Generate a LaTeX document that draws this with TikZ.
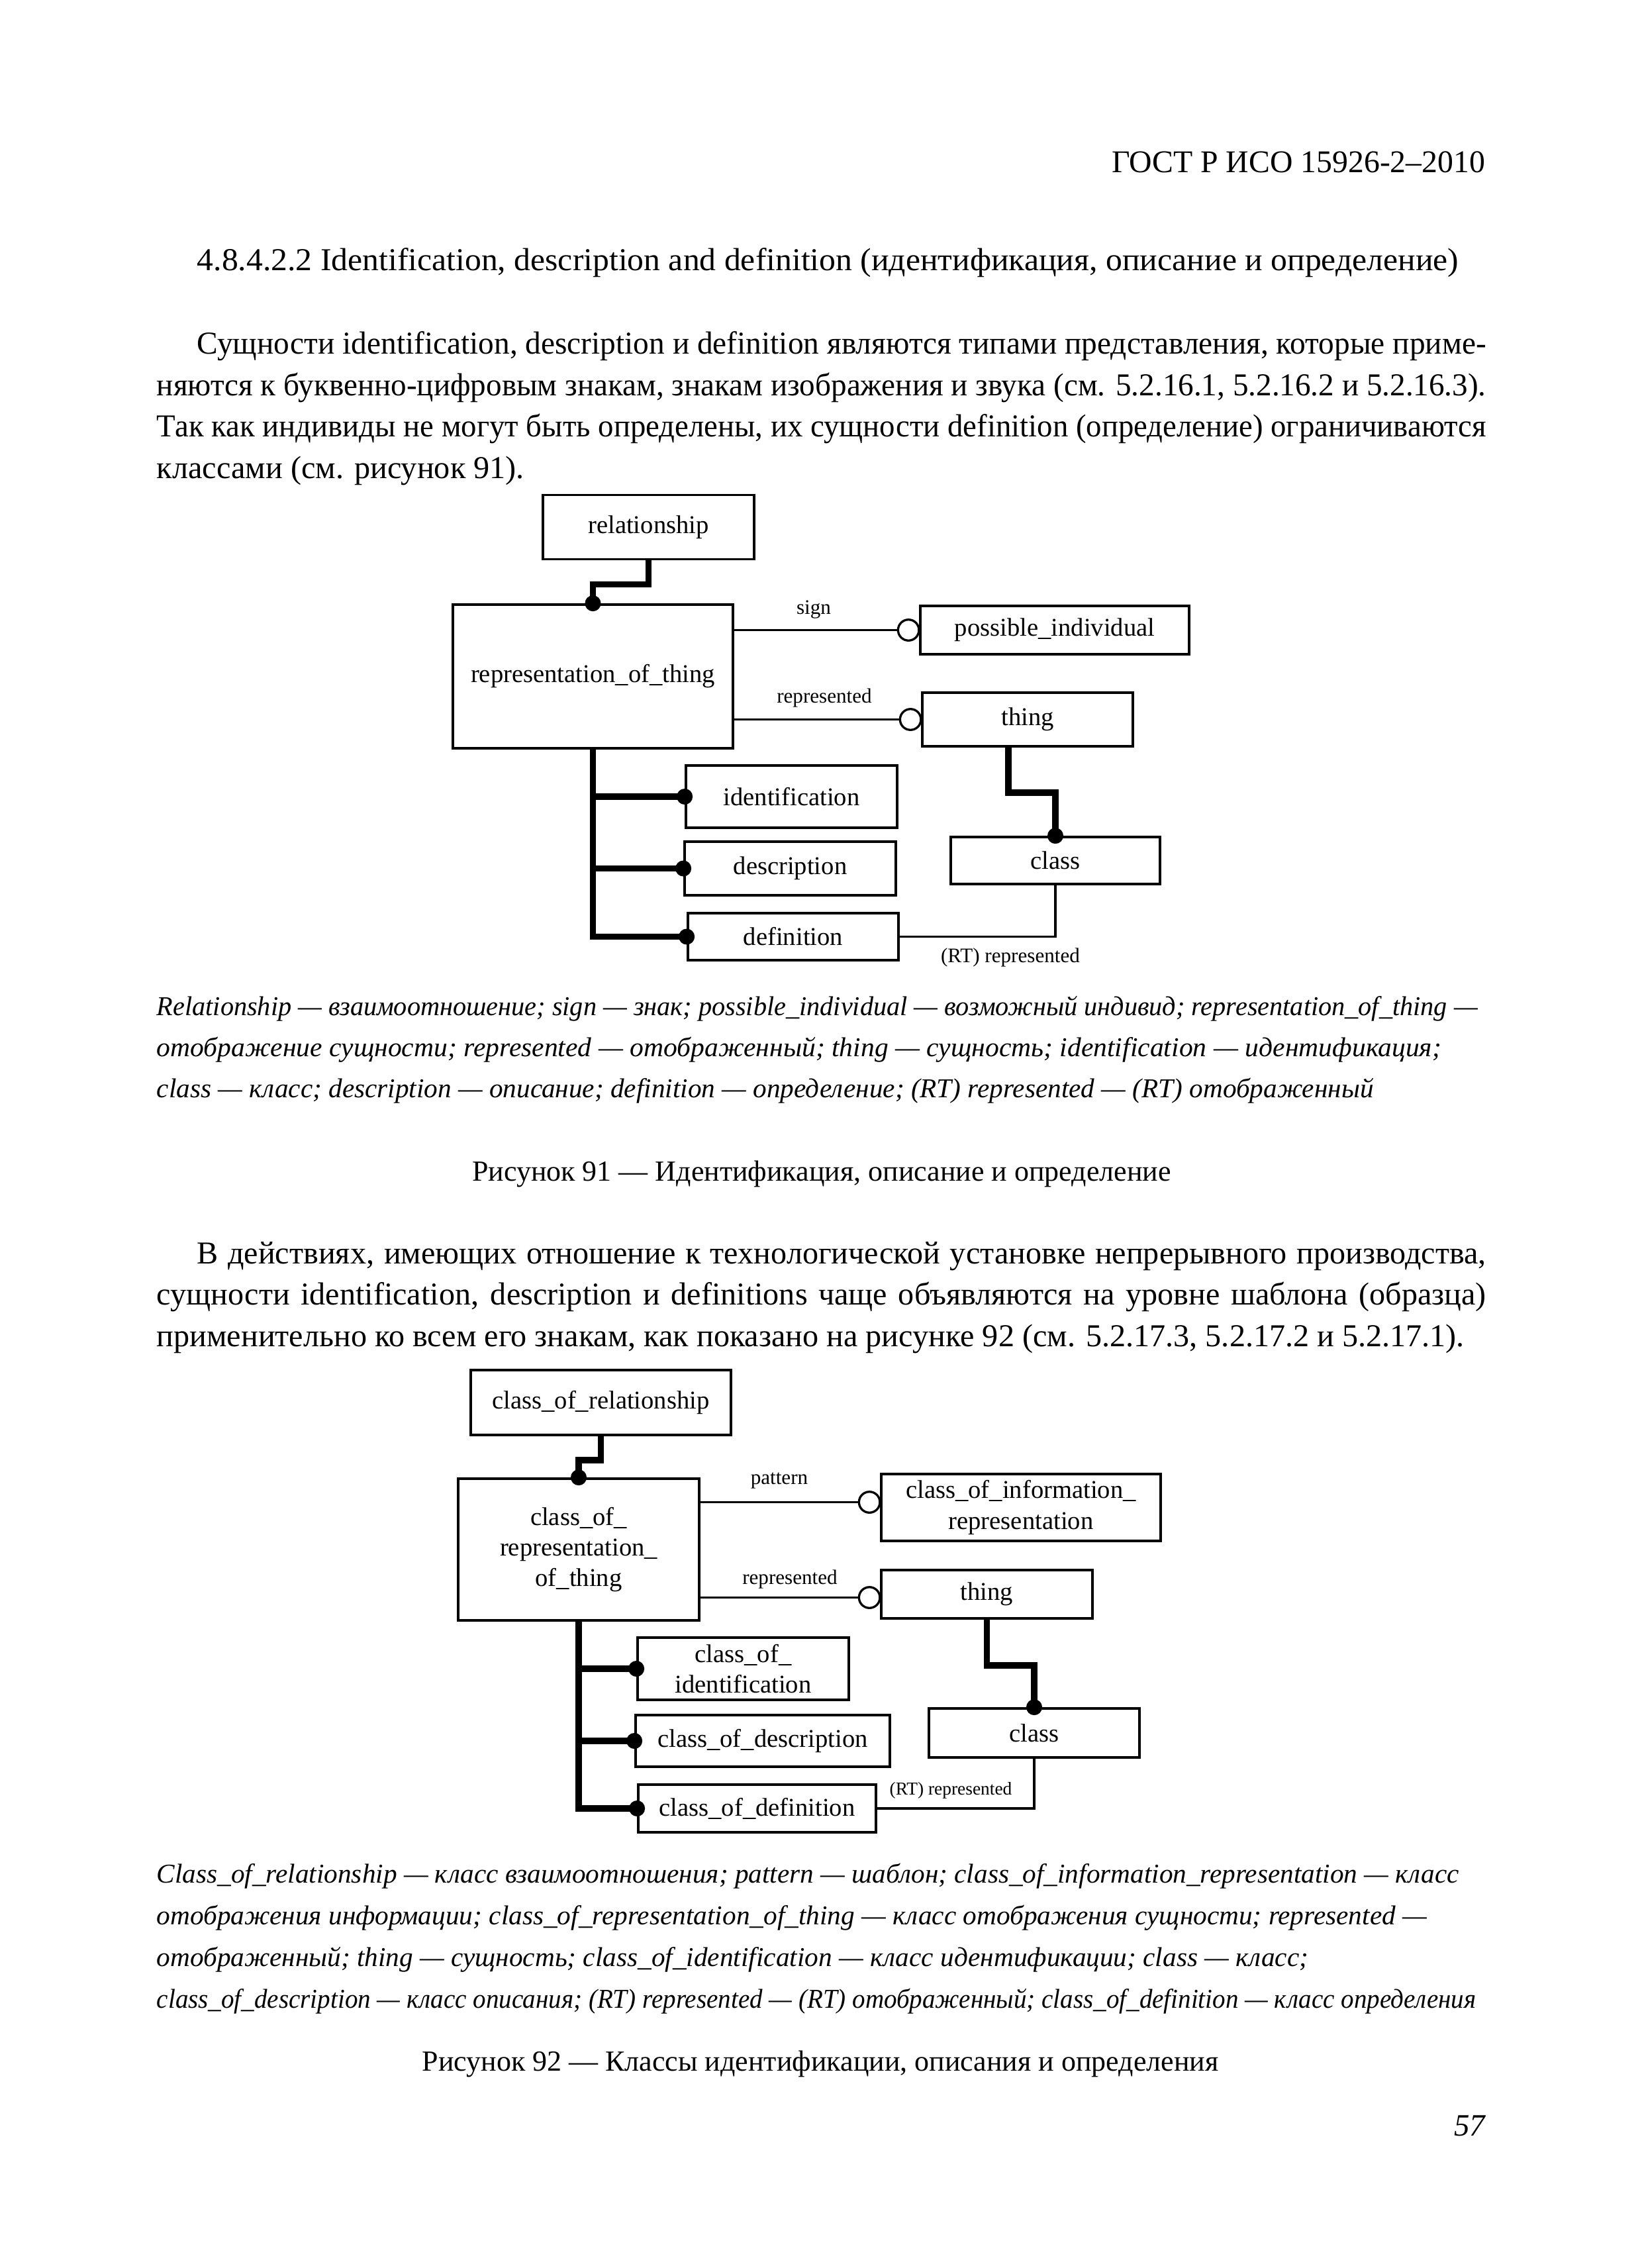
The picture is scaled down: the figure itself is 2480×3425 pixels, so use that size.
\documentclass[tikz,border=0pt]{standalone}
\usepackage{fontspec}
\usepackage{graphicx}
\setmainfont{Liberation Serif}
\usetikzlibrary{calc}
\newcommand\pxu{0.2409pt}
\newcommand\jline[2]{\sbox0{#2}\ifdim\wd0>#1\relax\resizebox{#1}{\height}{\usebox0}\else\makebox[#1][s]{#2}\fi}
\newcommand\fline[2]{\resizebox{#1}{\height}{#2}}
\begin{document}
\begin{tikzpicture}[x=0.2409pt, y=-0.2409pt,
  box/.style={draw, line width=0.9pt, inner sep=0pt, align=center, font=\fontsize{9.3pt}{11.1pt}\selectfont},
  conn/.style={line width=0.8pt},
  heavy/.style={line width=2.3pt, line join=miter},
  dot/.style={circle, fill=black, inner sep=0pt, minimum size=5.8pt},
  ocirc/.style={circle, draw, fill=white, line width=0.8pt, inner sep=0pt, minimum size=7.6pt},
  lbl/.style={inner sep=0pt, font=\fontsize{7.5pt}{9pt}\selectfont},
  lbls/.style={inner sep=0pt, font=\fontsize{6.6pt}{8pt}\selectfont},
  body/.style={anchor=base west, inner sep=0pt, font=\fontsize{11.6pt}{14pt}\selectfont},
  capt/.style={anchor=base west, inner sep=0pt, font=\fontsize{9.9pt}{12pt}\selectfont\itshape},
  ftitle/.style={anchor=base, inner sep=0pt, font=\fontsize{10.6pt}{13pt}\selectfont},
]
\path[use as bounding box, fill=white] (0,0) rectangle (2480,3425);

% ---------- header and text ----------
\node[anchor=base east, inner sep=0pt, font=\fontsize{11.5pt}{14pt}\selectfont] (hdr) at (2244,260) {ГОСТ Р ИСО 15926-2–2010};
\node[body] (sec) at (297,408) {\fline{459pt}{4.8.4.2.2 Identification, description and definition (идентификация, описание и определение)}};

\node[body] (p1a) at (297,534) {\jline{469.0pt}{Сущности identification, description и definition являются типами представления, которые приме-}};
\node[body] (p1b) at (236,597) {\jline{483.7pt}{няются к буквенно-цифровым знакам, знакам изображения и звука (см. 5.2.16.1, 5.2.16.2 и 5.2.16.3).}};
\node[body] (p1c) at (236,659) {\jline{483.7pt}{Так как индивиды не могут быть определены, их сущности definition (определение) ограничиваются}};
\node[body] (p1d) at (236,722) {\fline{133.7pt}{классами (см. рисунок 91).}};

% ---------- figure 91 ----------
\node[box, minimum width=319*\pxu, minimum height=97*\pxu] (rel) at (979.5,796) {relationship};
\node[box, minimum width=423*\pxu, minimum height=217*\pxu] (rot) at (895.5,1021.5) {representation\_of\_thing};
\node[box, minimum width=406*\pxu, minimum height=73*\pxu] (pi) at (1593,951.5) {possible\_individual};
\node[box, minimum width=318*\pxu, minimum height=81*\pxu] (thing1) at (1552,1086.5) {thing};
\node[box, minimum width=319*\pxu, minimum height=94*\pxu] (ident) at (1195.5,1203) {identification};
\node[box, minimum width=319*\pxu, minimum height=81*\pxu] (desc) at (1193.5,1311.5) {description};
\node[box, minimum width=318*\pxu, minimum height=71*\pxu] (defn) at (1198,1414.5) {definition};
\node[box, minimum width=316*\pxu, minimum height=71*\pxu] (class1) at (1594,1299.5) {class};

\node[ocirc] (oc1) at ($(pi.west)+(-16,0)$) {};
\node[ocirc] (oc2) at ($(thing1.west)+(-16,0)$) {};
\draw[conn] (rot.east |- oc1) -- (oc1.west);
\draw[conn] (rot.east |- oc2) -- (oc2.west);
\node[lbl] (lsign) at (1229,921) {sign};
\node[lbl] (lrep1) at (1245,1054) {represented};

\draw[heavy] (rel.south) -- ++(0,36) -| (rot.north);
\draw[heavy] (rot.south) |- (defn.west);
\draw[heavy] (rot.south |- ident.west) -- (ident.west);
\draw[heavy] (rot.south |- desc.west) -- (desc.west);
\draw[heavy] ($(thing1.south)+(-29,0)$) -- ++(0,68) -| (class1.north);
\draw[conn] (class1.south) |- (defn.east);
\node[lbl] (lrt1) at (1526,1446) {(RT) represented};

\node[dot] (d1a) at (rot.north) {};
\node[dot] (d1b) at (ident.west) {};
\node[dot] (d1c) at (desc.west) {};
\node[dot] (d1d) at (defn.west) {};
\node[dot] (d1e) at (class1.north) {};

\node[capt] (c1a) at (236,1533) {\fline{480.6pt}{Relationship — взаимоотношение; sign — знак; possible\_individual — возможный индивид; representation\_of\_thing —}};
\node[capt] (c1b) at (236,1595) {\fline{467.4pt}{отображение сущности; represented — отображенный; thing — сущность; identification — идентификация;}};
\node[capt] (c1c) at (236,1657) {\fline{442.7pt}{class — класс; description — описание; definition — определение; (RT) represented — (RT) отображенный}};
\node[ftitle] (t1) at (1241,1783) {Рисунок 91 — Идентификация, описание и определение};

\node[body] (p2a) at (297,1908) {\jline{469.0pt}{В действиях, имеющих отношение к технологической установке непрерывного производства,}};
\node[body] (p2b) at (236,1970) {\jline{483.7pt}{сущности identification, description и definitions чаще объявляются на уровне шаблона (образца)}};
\node[body] (p2c) at (236,2033) {\fline{475.8pt}{применительно ко всем его знакам, как показано на рисунке 92 (см. 5.2.17.3, 5.2.17.2 и 5.2.17.1).}};

% ---------- figure 92 ----------
\node[box, minimum width=393*\pxu, minimum height=98*\pxu] (cor) at (907.5,2118) {class\_of\_relationship};
\node[box, minimum width=364*\pxu, minimum height=214*\pxu] (corot) at (874,2340) {class\_of\_\\representation\_\\of\_thing};
\node[box, minimum width=422*\pxu, minimum height=101*\pxu] (coir) at (1542,2276.5) {class\_of\_information\_\\representation};
\node[box, minimum width=319*\pxu, minimum height=73*\pxu] (thing2) at (1490.5,2407.5) {thing};
\node[box, minimum width=319*\pxu, minimum height=94*\pxu] (coid) at (1122.5,2520) {class\_of\_\\identification};
\node[box, minimum width=384*\pxu, minimum height=78*\pxu] (codesc) at (1152,2629) {class\_of\_description};
\node[box, minimum width=359*\pxu, minimum height=72*\pxu] (codef) at (1143.5,2731) {class\_of\_definition};
\node[box, minimum width=318*\pxu, minimum height=74*\pxu] (class2) at (1562,2617) {class};

\node[ocirc] (oc3) at ($(coir.west)+(-16,-8)$) {};
\node[ocirc] (oc4) at ($(thing2.west)+(-16,5)$) {};
\draw[conn] (corot.east |- oc3) -- (oc3.west);
\draw[conn] (corot.east |- oc4) -- (oc4.west);
\node[lbl] (lpat) at (1177,2236) {pattern};
\node[lbl] (lrep2) at (1193,2385) {represented};

\draw[heavy] (cor.south) -- ++(0,36) -| (corot.north);
\draw[heavy] (corot.south) |- (codef.west);
\draw[heavy] (corot.south |- coid.west) -- (coid.west);
\draw[heavy] (corot.south |- codesc.west) -- (codesc.west);
\draw[heavy] (thing2.south) -- ++(0,69) -| (class2.north);
\draw[conn] (class2.south) |- (codef.east);
\node[lbls] (lrt2) at (1436,2704) {(RT) represented};

\node[dot] (d2a) at (corot.north) {};
\node[dot] (d2b) at (coid.west) {};
\node[dot] (d2c) at (codesc.west) {};
\node[dot] (d2d) at (codef.west) {};
\node[dot] (d2e) at (class2.north) {};

\node[capt] (c2a) at (236,2843) {\fline{473.8pt}{Class\_of\_relationship — класс взаимоотношения; pattern — шаблон; class\_of\_information\_representation — класс}};
\node[capt] (c2b) at (236,2906) {\fline{462.1pt}{отображения информации; class\_of\_representation\_of\_thing — класс отображения сущности; represented —}};
\node[capt] (c2c) at (236,2969) {\fline{419.0pt}{отображенный; thing — сущность; class\_of\_identification — класс идентификации; class — класс;}};
\node[capt] (c2d) at (236,3032) {\fline{480.0pt}{class\_of\_description — класс описания; (RT) represented — (RT) отображенный; class\_of\_definition — класс определения}};
\node[ftitle] (t2) at (1239,3127) {Рисунок 92 — Классы идентификации, описания и определения};

\node[anchor=base east, inner sep=0pt, font=\fontsize{11.3pt}{14pt}\selectfont\itshape] (pg) at (2244,3225) {57};
\end{tikzpicture}
\end{document}
